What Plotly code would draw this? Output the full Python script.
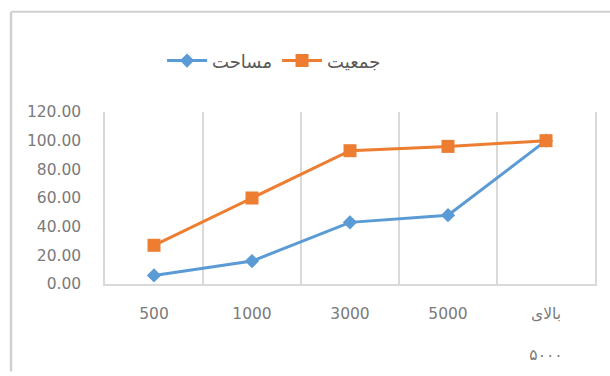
import plotly.graph_objects as go

categories = ["500", "1000", "3000", "5000", "بالای<br><br>۵۰۰۰"]
area_name = "مساحت"
area_values = [6, 16, 43, 48, 100]
pop_name = "جمعیت"
pop_values = [27, 60, 93, 96, 100]
y_ticks = [0, 20, 40, 60, 80, 100, 120]

blue = "#5B9BD5"
orange = "#ED7D31"
grid = "#d9d9d9"
txt = "#7a7a7a"
border = "#d0d0d0"

fig = go.Figure()
fig.add_trace(go.Scatter(
    x=categories, y=area_values, name=area_name, mode="lines+markers",
    line=dict(color=blue, width=3),
    marker=dict(symbol="diamond", size=11, color=blue),
))
fig.add_trace(go.Scatter(
    x=categories, y=pop_values, name=pop_name, mode="lines+markers",
    line=dict(color=orange, width=3),
    marker=dict(symbol="square", size=13, color=orange),
))

px0 = (11 - 105) / 490
py_top = (287 - 10) / 175
py_bot = (287 - 376) / 175

fig.update_layout(
    width=610, height=376,
    margin=dict(l=105, r=15, t=112, b=89),
    paper_bgcolor="white", plot_bgcolor="white",
    font=dict(family="DejaVu Sans", size=15, color=txt),
    showlegend=True,
    legend=dict(orientation="h", x=0.345, y=1.297, xanchor="center", yanchor="middle",
                font=dict(family="DejaVu Sans", size=18, color="#595959"),
                itemwidth=40, bgcolor="rgba(0,0,0,0)"),
    xaxis=dict(type="category", range=[-0.5, len(categories) - 0.5],
               tickson="boundaries", showgrid=True, gridcolor=grid,
               gridwidth=1.5, showline=True, linecolor=grid, linewidth=1.5,
               ticks="", ticklabelstandoff=15, tickfont=dict(size=15.5, color=txt),
               mirror=False, zeroline=False),
    yaxis=dict(range=[0, 120], tickvals=y_ticks, tickformat=".2f", showgrid=False,
               showline=True, linecolor=grid, linewidth=1.5, mirror=True,
               zeroline=False, ticks="", ticklabelstandoff=19,
               tickfont=dict(size=15.5, color=txt)),
    shapes=[
        dict(type="line", xref="paper", yref="paper", x0=px0, x1=1.05, y0=py_top, y1=py_top,
             line=dict(color=border, width=2), layer="below"),
        dict(type="line", xref="paper", yref="paper", x0=px0, x1=px0, y0=py_top, y1=py_bot,
             line=dict(color=border, width=2.5), layer="below"),
    ],
)

fig.write_html("out.html")
